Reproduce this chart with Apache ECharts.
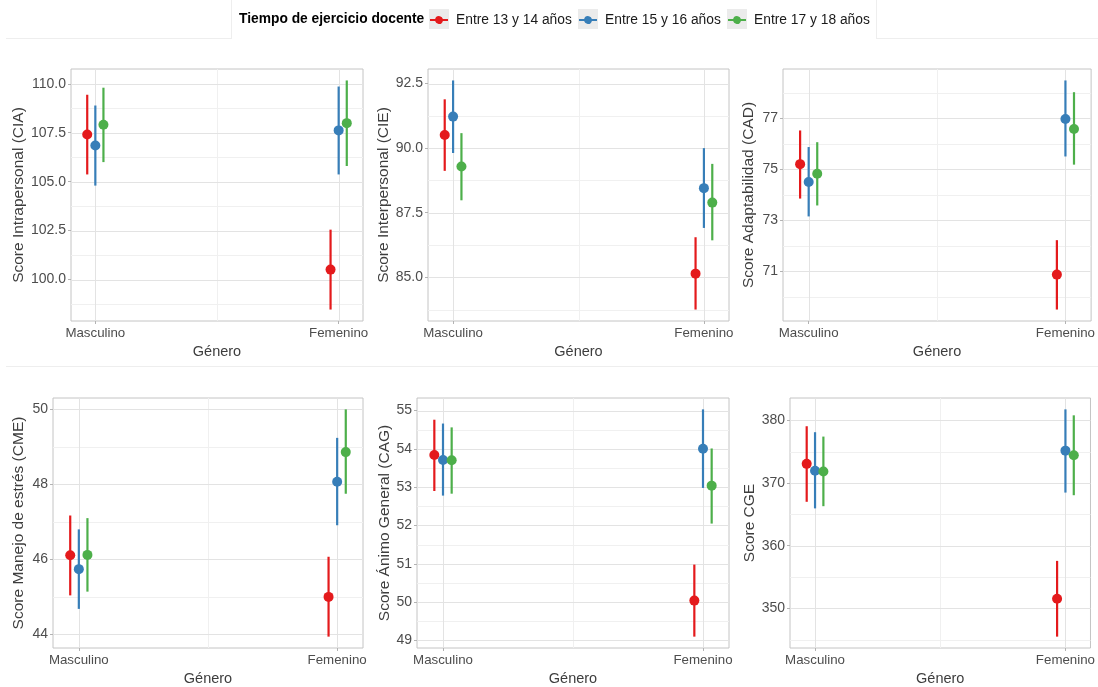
<!DOCTYPE html>
<html>
<head>
<meta charset="utf-8">
<script src="https://cdn.jsdelivr.net/npm/echarts@6/dist/echarts.min.js"></script>
<style>
html,body{margin:0;padding:0;background:#fff;}
#chart{width:1098px;height:687px;}
</style>
</head>
<body>
<div id="chart"></div>
<script>
// ---------- DATA ----------
const categories = ['Masculino', 'Femenino'];
const groups = ['Entre 13 y 14 años', 'Entre 15 y 16 años', 'Entre 17 y 18 años'];
const legendTitle = 'Tiempo de ejercicio docente';
const xTitle = 'Género';

// each array: one row per group (13-14, 15-16, 17-18), columns = [Masculino, Femenino]
const ciaMean = [[107.41, 100.51], [106.85, 107.62], [107.91, 107.99]];
const ciaLow  = [[105.37, 98.47], [104.80, 105.37], [106.00, 105.80]];
const ciaHigh = [[109.44, 102.55], [108.89, 109.86], [109.80, 110.17]];

const cieMean = [[90.51, 85.14], [91.22, 88.45], [89.29, 87.89]];
const cieLow  = [[89.12, 83.75], [89.81, 86.91], [87.98, 86.43]];
const cieHigh = [[91.89, 86.55], [92.62, 90.00], [90.58, 89.39]];

const cadMean = [[75.20, 70.87], [74.50, 76.97], [74.82, 76.58]];
const cadLow  = [[73.85, 69.50], [73.15, 75.50], [73.58, 75.18]];
const cadHigh = [[76.52, 72.22], [75.87, 78.48], [76.06, 78.02]];

const cmeMean = [[46.11, 45.00], [45.74, 48.07], [46.12, 48.86]];
const cmeLow  = [[45.04, 43.94], [44.68, 46.91], [45.14, 47.75]];
const cmeHigh = [[47.17, 46.07], [46.80, 49.24], [47.10, 50.00]];

const cagMean = [[53.84, 50.04], [53.71, 54.00], [53.70, 53.04]];
const cagLow  = [[52.90, 49.10], [52.78, 52.98], [52.83, 52.05]];
const cagHigh = [[54.76, 50.98], [54.66, 55.03], [54.56, 54.01]];

const cgeMean = [[373.05, 351.53], [371.95, 375.16], [371.84, 374.42]];
const cgeLow  = [[367.00, 345.50], [365.95, 368.47], [366.30, 368.05]];
const cgeHigh = [[379.05, 357.58], [378.10, 381.74], [377.40, 380.79]];

// tick labels
const ciaTicks = [100, 102.5, 105, 107.5, 110];
const cieTicks = [85, 87.5, 90, 92.5];
const cadTicks = [71, 73, 75, 77];
const cmeTicks = [44, 46, 48, 50];
const cagTicks = [49, 50, 51, 52, 53, 54, 55];
const cgeTicks = [350, 360, 370, 380];

const yTitles = ['Score Intrapersonal (CIA)', 'Score Interpersonal (CIE)', 'Score Adaptabilidad (CAD)',
                 'Score Manejo de estrés (CME)', 'Score Ánimo General (CAG)', 'Score CGE'];

// ---------- STYLE / LAYOUT ----------
const colors = ['#E41A1C', '#377EB8', '#4DAF4A'];
const FONT = '"Liberation Sans", Arial, sans-serif';
const panels = [
  {mean: ciaMean, low: ciaLow, high: ciaHigh, ticks: ciaTicks, dec: 1, grid: {left: 71, top: 69, width: 292, height: 252}, gap: 43},
  {mean: cieMean, low: cieLow, high: cieHigh, ticks: cieTicks, dec: 1, grid: {left: 428, top: 69, width: 301, height: 252}, gap: 35},
  {mean: cadMean, low: cadLow, high: cadHigh, ticks: cadTicks, dec: 0, grid: {left: 783, top: 69, width: 312, height: 252}, gap: 26},
  {mean: cmeMean, low: cmeLow, high: cmeHigh, ticks: cmeTicks, dec: 0, grid: {left: 53, top: 398, width: 310, height: 251}, gap: 26},
  {mean: cagMean, low: cagLow, high: cagHigh, ticks: cagTicks, dec: 0, grid: {left: 417, top: 398, width: 312, height: 251}, gap: 24},
  {mean: cgeMean, low: cgeLow, high: cgeHigh, ticks: cgeTicks, dec: 0, grid: {left: 790, top: 398, width: 305, height: 251}, gap: 32}
];
const X_MIN = 0.9, X_MAX = 2.1, DODGE = 1 / 30;

function minorBreaks(ticks, lo, hi) {
  const step = ticks[1] - ticks[0];
  const out = [];
  const start = ticks[0] - step / 2;
  for (let v = start; v <= hi + 1e-9; v += step) if (v >= lo) out.push(v);
  return out;
}

function gridLineSeries(idx, values, orient, color) {
  return {
    type: 'custom', xAxisIndex: idx, yAxisIndex: idx, z: 1, silent: true,
    data: values.map(v => [v]),
    encode: orient === 'h' ? {y: 0} : {x: 0},
    renderItem: function (params, api) {
      const cs = params.coordSys;
      const v = api.value(0);
      if (orient === 'h') {
        const y = Math.round(api.coord([1.5, v])[1]) + 0.5;
        return {type: 'line', shape: {x1: cs.x, y1: y, x2: cs.x + cs.width, y2: y},
                style: {stroke: color, lineWidth: 1}};
      } else {
        const x = Math.round(api.coord([v, 0])[0]) + 0.5;
        return {type: 'line', shape: {x1: x, y1: cs.y, x2: x, y2: cs.y + cs.height},
                style: {stroke: color, lineWidth: 1}};
      }
    }
  };
}

const grids = [], xAxes = [], yAxes = [], series = [];
panels.forEach((p, i) => {
  const all = [].concat(...p.low, ...p.high, ...p.mean);
  const dmin = Math.min(...all), dmax = Math.max(...all);
  const pad = (dmax - dmin) * 0.05;
  const ymin = dmin - pad, ymax = dmax + pad;

  grids.push(Object.assign({show: true, borderColor: '#c4c4c4', borderWidth: 1, backgroundColor: '#fff', containLabel: false}, p.grid));

  xAxes.push({
    type: 'value', gridIndex: i, min: X_MIN, max: X_MAX,
    axisLine: {show: false},
    axisTick: {show: true, customValues: [1, 2], length: 3, lineStyle: {color: '#b3b3b3'}},
    axisLabel: {customValues: [1, 2], formatter: v => categories[Math.round(v) - 1] || '', color: '#4d4d4d', fontSize: 13.3, fontFamily: FONT, margin: 6},
    splitLine: {show: false},
    name: xTitle, nameLocation: 'middle', nameGap: 23,
    nameTextStyle: {color: '#3d3d3d', fontSize: 14.5, fontFamily: FONT}
  });

  yAxes.push({
    type: 'value', gridIndex: i, min: ymin, max: ymax,
    axisLine: {show: false},
    axisTick: {show: true, customValues: p.ticks, length: 3, lineStyle: {color: '#b3b3b3'}},
    axisLabel: {customValues: p.ticks, formatter: v => Number(v).toFixed(p.dec), color: '#4d4d4d', fontSize: 14, fontFamily: FONT, margin: 5},
    splitLine: {show: false},
    name: yTitles[i], nameLocation: 'middle', nameGap: p.gap,
    nameTextStyle: {color: '#3d3d3d', fontSize: 15.5, fontFamily: FONT}
  });

  // grid lines
  series.push(gridLineSeries(i, minorBreaks(p.ticks, ymin, ymax), 'h', '#f0f0f0'));
  series.push(gridLineSeries(i, [1.5], 'v', '#f0f0f0'));
  series.push(gridLineSeries(i, p.ticks, 'h', '#e3e3e3'));
  series.push(gridLineSeries(i, [1, 2], 'v', '#e3e3e3'));

  groups.forEach((g, gi) => {
    const bars = categories.map((c, ci) => [ci + 1 + (gi - 1) * DODGE, p.low[gi][ci], p.high[gi][ci]]);
    const pts = categories.map((c, ci) => [ci + 1 + (gi - 1) * DODGE, p.mean[gi][ci]]);
    series.push({
      name: g, type: 'scatter', xAxisIndex: i, yAxisIndex: i, z: 4,
      symbol: 'circle', symbolSize: 10, itemStyle: {color: colors[gi], opacity: 1},
      data: pts
    });
    series.push({
      name: g, type: 'custom', xAxisIndex: i, yAxisIndex: i, z: 3,
      itemStyle: {color: colors[gi]},
      encode: {x: 0, y: [1, 2]},
      data: bars,
      renderItem: function (params, api) {
        const a = api.coord([api.value(0), api.value(1)]);
        const b = api.coord([api.value(0), api.value(2)]);
        return {type: 'line', shape: {x1: a[0], y1: a[1], x2: b[0], y2: b[1]},
                style: {stroke: colors[gi], lineWidth: 2.2}};
      }
    });
  });
});

const legendIcon = 'path://M0,3H5.127A4,4,0,0,1,12.873,3H18V5H12.873A4,4,0,0,1,5.127,5H0Z';
const legendBoxes = [429, 578, 727];
const legends = groups.map((g, gi) => ({
  data: [{name: g, icon: legendIcon, itemStyle: {color: colors[gi]}}],
  left: legendBoxes[gi] + 1, top: 13, padding: 0, z: 5,
  itemWidth: 18, itemHeight: 8, selectedMode: false,
  textStyle: {fontSize: 13.8, color: '#1a1a1a', fontFamily: FONT, padding: [0, 0, 0, 3]}
}));

const graphics = [];
legendBoxes.forEach(x => graphics.push({type: 'rect', left: x, top: 9, z: 0, shape: {width: 20, height: 20}, style: {fill: '#ebebeb'}}));
const faint = '#eeeeee';
[[6, 38.5, 232, 38.5], [876, 38.5, 1098, 38.5], [231.5, 0, 231.5, 38.5], [876.5, 0, 876.5, 38.5], [6, 366.5, 1098, 366.5]]
  .forEach(s => graphics.push({type: 'line', z: 0, silent: true, shape: {x1: s[0], y1: s[1], x2: s[2], y2: s[3]}, style: {stroke: faint, lineWidth: 1}}));

const chart = echarts.init(document.getElementById('chart'), null, {renderer: 'canvas'});
chart.setOption({
  backgroundColor: '#fff',
  animation: false,
  title: {text: legendTitle, left: 239, top: 12, padding: 0,
          textStyle: {fontSize: 13.8, fontWeight: 'bold', color: '#000', fontFamily: FONT}},
  legend: legends,
  graphic: graphics,
  grid: grids,
  xAxis: xAxes,
  yAxis: yAxes,
  series: series
});
</script>
</body>
</html>
